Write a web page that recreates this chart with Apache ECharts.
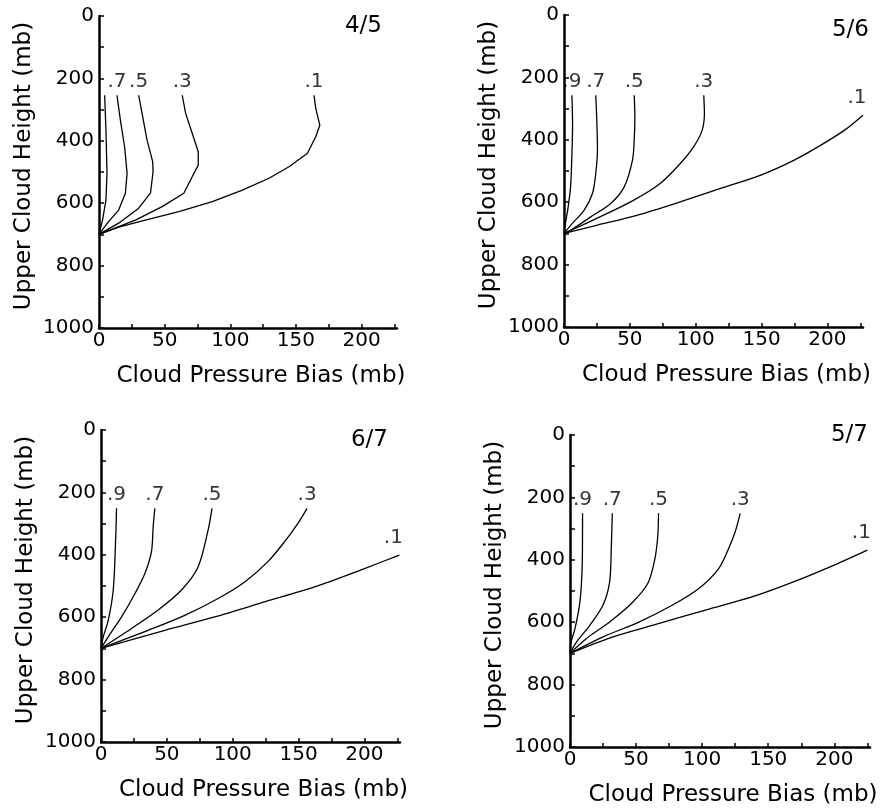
<!DOCTYPE html>
<html>
<head>
<meta charset="utf-8">
<script src="https://cdn.jsdelivr.net/npm/echarts@6/dist/echarts.min.js"></script>
<style>
  html, body { margin: 0; padding: 0; background: #fff; }
  #chart { width: 882px; height: 810px; }
</style>
</head>
<body>
<div id="chart"></div>
<script>
// titles, curve labels and tick values
var panelTitles = ['4/5', '5/6', '6/7', '5/7'];
var curveLabels = ['.9', '.7', '.5', '.3', '.1'];
var labels45 = ['', '.7', '.5', '.3', '.1']; // .9 label hidden behind the 200 tick label
var xTicks = [0, 50, 100, 150, 200];
var xMinorTicks = [0, 25, 50, 75, 100, 125, 150, 175, 200, 225];
var yTicks = [0, 200, 400, 600, 800, 1000];
var yMinorTicks = [0, 100, 200, 300, 400, 500, 600, 700, 800, 900, 1000];

// each curve: [bias (mb), upper cloud height (mb)], from top end down to the 700 mb point
// panel 4/5
var c45_9 = [[4.3, 254], [5.3, 366], [6.1, 504], [5.3, 590], [2.7, 654], [0, 700]];
var c45_7 = [[13.7, 254], [16.3, 334], [19.5, 419], [21.4, 504], [20.1, 568], [15, 622], [7.3, 659], [0, 700]];
var c45_5 = [[30.2, 254], [32.8, 312], [36.6, 398], [40.9, 467], [41.2, 499], [39.2, 568], [30.2, 616], [15, 664], [0, 700]];
var c45_3 = [[63.4, 254], [66, 312], [71, 376], [75.6, 435], [75.6, 478], [71, 515], [64.6, 568], [48.1, 611], [27.7, 654], [0, 700]];
var c45_1 = [[163.8, 254], [165.1, 296], [168.2, 350], [165.1, 387], [158.8, 440], [144.7, 483], [129.5, 520], [109.2, 558], [86.3, 595], [60.8, 627], [35.3, 654], [15, 677], [0, 700]];

// panel 5/6
var c56_9 = [[6, 257], [6.5, 350], [6, 450], [5, 550], [3, 620], [1, 670], [0, 700]];
var c56_7 = [[24.1, 257], [24.9, 337], [25.4, 433], [24.1, 508], [21.6, 572], [15.2, 626], [6.3, 668], [0, 700]];
var c56_5 = [[53.3, 257], [53.8, 326], [53.3, 401], [52, 465], [45.7, 551], [35.5, 604], [20.3, 647], [5.1, 690], [0, 700]];
var c56_3 = [[106.1, 257], [106.6, 315], [104.9, 369], [98.5, 422], [88.3, 476], [73, 540], [52.7, 594], [27.3, 647], [0, 700]];
var c56_1 = [[227, 321], [213, 369], [195, 417], [174.8, 465], [149.4, 513], [118.9, 556], [88.3, 599], [55.3, 642], [24.7, 674], [0, 700]];

// panel 6/7
var c67_9 = [[11.8, 251], [11.1, 353], [9.3, 513], [5.5, 610], [1.7, 663], [0, 700]];
var c67_7 = [[40.9, 251], [39.6, 310], [38.3, 390], [33.3, 460], [25.8, 524], [15.6, 599], [5.5, 663], [0, 700]];
var c67_5 = [[84.3, 251], [81.3, 321], [73.7, 439], [61.1, 513], [43.4, 577], [23.2, 636], [0, 700]];
var c67_3 = [[156.5, 251], [149.5, 299], [139.4, 358], [126.7, 422], [109.1, 487], [88.9, 540], [63.6, 594], [35.8, 642], [0, 700]];
var c67_1 = [[226.5, 401], [200, 444], [162.1, 503], [124.2, 551], [86.4, 599], [48.5, 642], [0, 700]];

// panel 5/7
var c57_9 = [[9.5, 251], [9.3, 406], [7.5, 535], [3.8, 620], [0.5, 668], [0, 700]];
var c57_7 = [[32, 251], [31.3, 353], [30, 471], [25, 545], [15, 610], [5, 663], [0, 700]];
var c57_5 = [[67, 251], [66.3, 331], [63.8, 406], [58.8, 476], [47.6, 535], [30, 599], [12.5, 652], [0, 700]];
var c57_3 = [[128.8, 251], [125, 310], [120, 364], [112.5, 428], [97.5, 492], [77.6, 545], [52.5, 599], [25, 647], [0, 700]];
var c57_1 = [[225, 369], [202.5, 412], [172.5, 465], [137.6, 519], [102.5, 561], [67.5, 604], [32.5, 647], [0, 700]];

var panels = [
  [c45_9, c45_7, c45_5, c45_3, c45_1],
  [c56_9, c56_7, c56_5, c56_3, c56_1],
  [c67_9, c67_7, c67_5, c67_3, c67_1],
  [c57_9, c57_7, c57_5, c57_3, c57_1]
];
var panelLabels = [labels45, curveLabels, curveLabels, curveLabels];

var font = 'DejaVu Sans';
var xMax = 227;

var grids = [
  { left: 99, top: 16, width: 298, height: 312 },
  { left: 564, top: 15, width: 299, height: 312 },
  { left: 101, top: 430, width: 299, height: 312 },
  { left: 570, top: 435, width: 300, height: 312 }
];
var titlePos = [
  { right: 500, top: 15 },
  { right: 13, top: 19 },
  { right: 494, top: 429 },
  { right: 14, top: 424 }
];

var myChart = echarts.init(document.getElementById('chart'));

var xAxes = [], yAxes = [], series = [], titles = [];

grids.forEach(function (g, i) {
  titles.push({
    text: panelTitles[i],
    right: titlePos[i].right,
    top: titlePos[i].top,
    padding: 0,
    textStyle: { fontFamily: font, fontSize: 23, fontWeight: 'normal', color: '#000' }
  });

  xAxes.push({
    gridIndex: i,
    type: 'value',
    min: 0,
    max: xMax,
    interval: 50,
    name: 'Cloud Pressure Bias (mb)',
    nameLocation: 'middle',
    nameGap: 37,
    nameTextStyle: { fontFamily: font, fontSize: 23, color: '#000', padding: [0, 0, 0, 26] },
    axisLine: { show: true, onZero: false, lineStyle: { color: '#000', width: 2.5 } },
    axisTick: { show: true, inside: true, length: 4, customValues: xMinorTicks, lineStyle: { color: '#000', width: 1.5 } },
    axisLabel: { customValues: xTicks, margin: 3, fontFamily: font, fontSize: 20, color: '#000', formatter: function (v) { return String(v); } },
    splitLine: { show: false }
  });

  yAxes.push({
    gridIndex: i,
    type: 'value',
    inverse: true,
    min: 0,
    max: 1000,
    interval: 200,
    name: 'Upper Cloud Height (mb)',
    nameLocation: 'middle',
    nameGap: 63,
    nameTextStyle: { fontFamily: font, fontSize: 23, color: '#000', padding: [0, 0, 0, 12] },
    axisLine: { show: true, onZero: false, lineStyle: { color: '#000', width: 2.5 } },
    axisTick: { show: true, inside: true, length: 5, customValues: yMinorTicks, lineStyle: { color: '#000', width: 1.5 } },
    axisLabel: { customValues: yTicks, margin: 5, fontFamily: font, fontSize: 20, color: '#000', formatter: function (v) { return String(v); } },
    splitLine: { show: false }
  });
});

panels.forEach(function (curves, i) {
  curves.forEach(function (pts) {
    series.push({
      type: 'line',
      xAxisIndex: i,
      yAxisIndex: i,
      data: pts,
      showSymbol: false,
      smooth: i === 0 ? false : 0.3,
      silent: true,
      lineStyle: { color: '#000', width: 1.3 }
    });
  });
  // curve labels at the top end of each curve
  series.push({
    type: 'scatter',
    xAxisIndex: i,
    yAxisIndex: i,
    symbolSize: 1,
    silent: true,
    itemStyle: { color: 'rgba(0,0,0,0)' },
    data: curves.map(function (pts, j) {
      var item = { value: pts[0], name: panelLabels[i][j] };
      if (pts[0][0] > 200) {
        item.label = { offset: [-6, -4] };
      }
      return item;
    }),
    label: {
      show: true,
      position: 'top',
      distance: 3,
      formatter: '{b}',
      fontFamily: font,
      fontSize: 20,
      color: '#000'
    }
  });
});

var option = {
  backgroundColor: '#fff',
  animation: false,
  title: titles,
  grid: grids,
  xAxis: xAxes,
  yAxis: yAxes,
  series: series
};
myChart.setOption(option, true);

window.addEventListener('resize', function () {
  myChart.resize();
});
</script>
</body>
</html>
